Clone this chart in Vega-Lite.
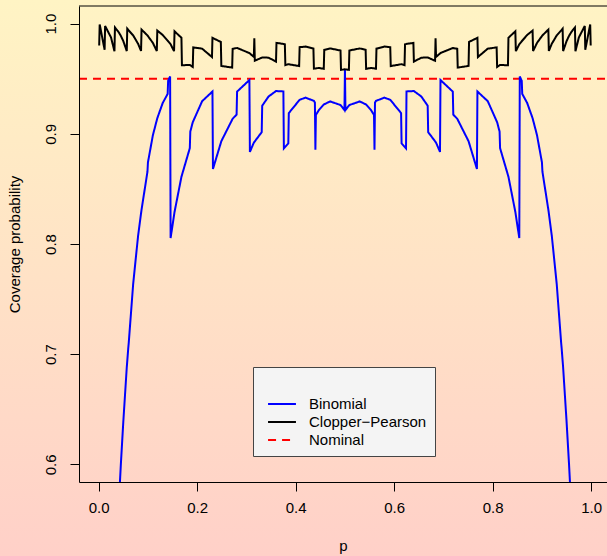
{
  "$schema": "https://vega.github.io/schema/vega-lite/v6.json",
  "width": 528,
  "height": 476,
  "autosize": {"type": "none"},
  "padding": {"left": 79, "top": 6, "right": 0, "bottom": 74},
  "background": "#FFE4C6",
  "config": {
    "view": {"stroke": null},
    "font": "Liberation Sans",
    "axis": {"grid": false, "domainColor": "#000000", "tickColor": "#000000", "labelColor": "#000000", "titleColor": "#000000", "labelFontSize": 15, "titleFontSize": 15, "titleFontWeight": "normal", "tickSize": 9, "labelFont": "Liberation Sans", "titleFont": "Liberation Sans"},
    "legend": {"orient": "none", "legendX": 174, "legendY": 361, "fillColor": "#F4F4F4", "strokeColor": "#444444", "padding": 8, "symbolOffset": 11, "symbolType": "M-1.55,0H1.55", "symbolSize": 324, "symbolStrokeWidth": 2, "labelFontSize": 15, "labelFont": "Liberation Sans", "labelColor": "#000000", "labelOffset": 17, "rowPadding": 0, "titleFontSize": 14, "titlePadding": 5, "zindex": 2}
  },
  "layer": [
    {
      "data": {"values": [{"a": 1}]},
      "mark": {"type": "rect", "clip": false, "fill": {"gradient": "linear", "x1": 0, "y1": 0, "x2": 0, "y2": 1, "stops": [{"offset": 0, "color": "#FFF4C4"}, {"offset": 1, "color": "#FFD0C8"}]}},
      "encoding": {
        "x": {"datum": -0.21, "type": "quantitative"},
        "x2": {"datum": 1.04},
        "y": {"datum": 1.0215, "type": "quantitative"},
        "y2": {"datum": 0.5168}
      }
    },
    {
      "data": {"values": [
        {"s": "Nominal", "p": -0.04, "c": 0.95}, {"s": "Nominal", "p": 1.04, "c": 0.95},
        {"s": "Binomial", "p": 0.025, "c": 0.3935}, {"s": "Binomial", "p": 0.032, "c": 0.4789}, {"s": "Binomial", "p": 0.04, "c": 0.557}, {"s": "Binomial", "p": 0.045, "c": 0.6002}, {"s": "Binomial", "p": 0.05, "c": 0.639}, {"s": "Binomial", "p": 0.057, "c": 0.6881}, {"s": "Binomial", "p": 0.06, "c": 0.7054}, {"s": "Binomial", "p": 0.061, "c": 0.7103}, {"s": "Binomial", "p": 0.07, "c": 0.7638}, {"s": "Binomial", "p": 0.08, "c": 0.8075}, {"s": "Binomial", "p": 0.087, "c": 0.8312}, {"s": "Binomial", "p": 0.099, "c": 0.8656}, {"s": "Binomial", "p": 0.1, "c": 0.8741}, {"s": "Binomial", "p": 0.11, "c": 0.8987}, {"s": "Binomial", "p": 0.119, "c": 0.9142}, {"s": "Binomial", "p": 0.13, "c": 0.928}, {"s": "Binomial", "p": 0.14, "c": 0.9362}, {"s": "Binomial", "p": 0.141, "c": 0.9481}, {"s": "Binomial", "p": 0.145, "c": 0.9521}, {"s": "Binomial", "p": 0.146, "c": 0.8054}, {"s": "Binomial", "p": 0.154, "c": 0.8291}, {"s": "Binomial", "p": 0.168, "c": 0.861}, {"s": "Binomial", "p": 0.185, "c": 0.887}, {"s": "Binomial", "p": 0.186, "c": 0.902}, {"s": "Binomial", "p": 0.191, "c": 0.9105}, {"s": "Binomial", "p": 0.21, "c": 0.9296}, {"s": "Binomial", "p": 0.231, "c": 0.9384}, {"s": "Binomial", "p": 0.232, "c": 0.8681}, {"s": "Binomial", "p": 0.249, "c": 0.8933}, {"s": "Binomial", "p": 0.272, "c": 0.9137}, {"s": "Binomial", "p": 0.28, "c": 0.9174}, {"s": "Binomial", "p": 0.281, "c": 0.9383}, {"s": "Binomial", "p": 0.306, "c": 0.9488}, {"s": "Binomial", "p": 0.307, "c": 0.8836}, {"s": "Binomial", "p": 0.315, "c": 0.892}, {"s": "Binomial", "p": 0.331, "c": 0.9015}, {"s": "Binomial", "p": 0.332, "c": 0.9255}, {"s": "Binomial", "p": 0.345, "c": 0.9339}, {"s": "Binomial", "p": 0.36, "c": 0.9388}, {"s": "Binomial", "p": 0.375, "c": 0.9385}, {"s": "Binomial", "p": 0.376, "c": 0.8868}, {"s": "Binomial", "p": 0.385, "c": 0.8913}, {"s": "Binomial", "p": 0.386, "c": 0.9188}, {"s": "Binomial", "p": 0.408, "c": 0.9309}, {"s": "Binomial", "p": 0.42, "c": 0.9328}, {"s": "Binomial", "p": 0.437, "c": 0.9299}, {"s": "Binomial", "p": 0.439, "c": 0.9283}, {"s": "Binomial", "p": 0.44, "c": 0.8855}, {"s": "Binomial", "p": 0.441, "c": 0.9171}, {"s": "Binomial", "p": 0.447, "c": 0.9215}, {"s": "Binomial", "p": 0.457, "c": 0.9266}, {"s": "Binomial", "p": 0.47, "c": 0.9294}, {"s": "Binomial", "p": 0.491, "c": 0.9261}, {"s": "Binomial", "p": 0.499, "c": 0.9216}, {"s": "Binomial", "p": 0.5, "c": 0.9586},
        {"s": "Binomial", "p": 0.501, "c": 0.9216}, {"s": "Binomial", "p": 0.509, "c": 0.9261}, {"s": "Binomial", "p": 0.53, "c": 0.9294}, {"s": "Binomial", "p": 0.543, "c": 0.9266}, {"s": "Binomial", "p": 0.553, "c": 0.9215}, {"s": "Binomial", "p": 0.559, "c": 0.9171}, {"s": "Binomial", "p": 0.56, "c": 0.8855}, {"s": "Binomial", "p": 0.561, "c": 0.9283}, {"s": "Binomial", "p": 0.563, "c": 0.9299}, {"s": "Binomial", "p": 0.58, "c": 0.9328}, {"s": "Binomial", "p": 0.592, "c": 0.9309}, {"s": "Binomial", "p": 0.614, "c": 0.9188}, {"s": "Binomial", "p": 0.615, "c": 0.8913}, {"s": "Binomial", "p": 0.624, "c": 0.8868}, {"s": "Binomial", "p": 0.625, "c": 0.9385}, {"s": "Binomial", "p": 0.64, "c": 0.9388}, {"s": "Binomial", "p": 0.655, "c": 0.9339}, {"s": "Binomial", "p": 0.668, "c": 0.9255}, {"s": "Binomial", "p": 0.669, "c": 0.9015}, {"s": "Binomial", "p": 0.685, "c": 0.892}, {"s": "Binomial", "p": 0.693, "c": 0.8836}, {"s": "Binomial", "p": 0.694, "c": 0.9488}, {"s": "Binomial", "p": 0.719, "c": 0.9383}, {"s": "Binomial", "p": 0.72, "c": 0.9174}, {"s": "Binomial", "p": 0.728, "c": 0.9137}, {"s": "Binomial", "p": 0.751, "c": 0.8933}, {"s": "Binomial", "p": 0.768, "c": 0.8681}, {"s": "Binomial", "p": 0.769, "c": 0.9384}, {"s": "Binomial", "p": 0.79, "c": 0.9296}, {"s": "Binomial", "p": 0.809, "c": 0.9105}, {"s": "Binomial", "p": 0.814, "c": 0.902}, {"s": "Binomial", "p": 0.815, "c": 0.887}, {"s": "Binomial", "p": 0.832, "c": 0.861}, {"s": "Binomial", "p": 0.846, "c": 0.8291}, {"s": "Binomial", "p": 0.854, "c": 0.8054}, {"s": "Binomial", "p": 0.855, "c": 0.9521}, {"s": "Binomial", "p": 0.859, "c": 0.9481}, {"s": "Binomial", "p": 0.86, "c": 0.9362}, {"s": "Binomial", "p": 0.87, "c": 0.928}, {"s": "Binomial", "p": 0.881, "c": 0.9142}, {"s": "Binomial", "p": 0.89, "c": 0.8987}, {"s": "Binomial", "p": 0.9, "c": 0.8741}, {"s": "Binomial", "p": 0.901, "c": 0.8656}, {"s": "Binomial", "p": 0.913, "c": 0.8312}, {"s": "Binomial", "p": 0.92, "c": 0.8075}, {"s": "Binomial", "p": 0.93, "c": 0.7638}, {"s": "Binomial", "p": 0.939, "c": 0.7103}, {"s": "Binomial", "p": 0.94, "c": 0.7054}, {"s": "Binomial", "p": 0.943, "c": 0.6881}, {"s": "Binomial", "p": 0.95, "c": 0.639}, {"s": "Binomial", "p": 0.955, "c": 0.6002}, {"s": "Binomial", "p": 0.96, "c": 0.557}, {"s": "Binomial", "p": 0.968, "c": 0.4789}, {"s": "Binomial", "p": 0.975, "c": 0.3935},
        {"s": "Clopper−Pearson", "p": 0.001, "c": 0.9802}, {"s": "Clopper−Pearson", "p": 0.002, "c": 0.9993}, {"s": "Clopper−Pearson", "p": 0.012, "c": 0.9763}, {"s": "Clopper−Pearson", "p": 0.013, "c": 0.9979}, {"s": "Clopper−Pearson", "p": 0.025, "c": 0.9875}, {"s": "Clopper−Pearson", "p": 0.032, "c": 0.9749}, {"s": "Clopper−Pearson", "p": 0.033, "c": 0.9965}, {"s": "Clopper−Pearson", "p": 0.04, "c": 0.9926}, {"s": "Clopper−Pearson", "p": 0.045, "c": 0.9889}, {"s": "Clopper−Pearson", "p": 0.05, "c": 0.9841}, {"s": "Clopper−Pearson", "p": 0.057, "c": 0.9751}, {"s": "Clopper−Pearson", "p": 0.058, "c": 0.9954}, {"s": "Clopper−Pearson", "p": 0.06, "c": 0.9943}, {"s": "Clopper−Pearson", "p": 0.07, "c": 0.9893}, {"s": "Clopper−Pearson", "p": 0.08, "c": 0.9817}, {"s": "Clopper−Pearson", "p": 0.086, "c": 0.9752}, {"s": "Clopper−Pearson", "p": 0.087, "c": 0.9946}, {"s": "Clopper−Pearson", "p": 0.099, "c": 0.9893}, {"s": "Clopper−Pearson", "p": 0.11, "c": 0.9825}, {"s": "Clopper−Pearson", "p": 0.118, "c": 0.9751}, {"s": "Clopper−Pearson", "p": 0.119, "c": 0.9937}, {"s": "Clopper−Pearson", "p": 0.13, "c": 0.9897}, {"s": "Clopper−Pearson", "p": 0.141, "c": 0.984}, {"s": "Clopper−Pearson", "p": 0.146, "c": 0.9813}, {"s": "Clopper−Pearson", "p": 0.153, "c": 0.975}, {"s": "Clopper−Pearson", "p": 0.154, "c": 0.993}, {"s": "Clopper−Pearson", "p": 0.168, "c": 0.9872}, {"s": "Clopper−Pearson", "p": 0.169, "c": 0.9622}, {"s": "Clopper−Pearson", "p": 0.185, "c": 0.9625}, {"s": "Clopper−Pearson", "p": 0.191, "c": 0.9607}, {"s": "Clopper−Pearson", "p": 0.192, "c": 0.9784}, {"s": "Clopper−Pearson", "p": 0.21, "c": 0.9773}, {"s": "Clopper−Pearson", "p": 0.23, "c": 0.9697}, {"s": "Clopper−Pearson", "p": 0.231, "c": 0.9871}, {"s": "Clopper−Pearson", "p": 0.248, "c": 0.9834}, {"s": "Clopper−Pearson", "p": 0.249, "c": 0.9616}, {"s": "Clopper−Pearson", "p": 0.271, "c": 0.9601}, {"s": "Clopper−Pearson", "p": 0.272, "c": 0.9772}, {"s": "Clopper−Pearson", "p": 0.281, "c": 0.9779}, {"s": "Clopper−Pearson", "p": 0.306, "c": 0.9733}, {"s": "Clopper−Pearson", "p": 0.315, "c": 0.9698}, {"s": "Clopper−Pearson", "p": 0.316, "c": 0.9867}, {"s": "Clopper−Pearson", "p": 0.317, "c": 0.9663}, {"s": "Clopper−Pearson", "p": 0.332, "c": 0.9693}, {"s": "Clopper−Pearson", "p": 0.345, "c": 0.9691}, {"s": "Clopper−Pearson", "p": 0.36, "c": 0.9655}, {"s": "Clopper−Pearson", "p": 0.361, "c": 0.9825}, {"s": "Clopper−Pearson", "p": 0.375, "c": 0.9816}, {"s": "Clopper−Pearson", "p": 0.378, "c": 0.9812}, {"s": "Clopper−Pearson", "p": 0.379, "c": 0.9623}, {"s": "Clopper−Pearson", "p": 0.385, "c": 0.9632}, {"s": "Clopper−Pearson", "p": 0.407, "c": 0.9615}, {"s": "Clopper−Pearson", "p": 0.408, "c": 0.9786}, {"s": "Clopper−Pearson", "p": 0.42, "c": 0.9792}, {"s": "Clopper−Pearson", "p": 0.436, "c": 0.9773}, {"s": "Clopper−Pearson", "p": 0.437, "c": 0.9591}, {"s": "Clopper−Pearson", "p": 0.447, "c": 0.9598}, {"s": "Clopper−Pearson", "p": 0.457, "c": 0.959}, {"s": "Clopper−Pearson", "p": 0.458, "c": 0.9762}, {"s": "Clopper−Pearson", "p": 0.47, "c": 0.9775}, {"s": "Clopper−Pearson", "p": 0.491, "c": 0.9756}, {"s": "Clopper−Pearson", "p": 0.492, "c": 0.958}, {"s": "Clopper−Pearson", "p": 0.5, "c": 0.9586},
        {"s": "Clopper−Pearson", "p": 0.508, "c": 0.958}, {"s": "Clopper−Pearson", "p": 0.509, "c": 0.9756}, {"s": "Clopper−Pearson", "p": 0.53, "c": 0.9775}, {"s": "Clopper−Pearson", "p": 0.542, "c": 0.9762}, {"s": "Clopper−Pearson", "p": 0.543, "c": 0.959}, {"s": "Clopper−Pearson", "p": 0.553, "c": 0.9598}, {"s": "Clopper−Pearson", "p": 0.563, "c": 0.9591}, {"s": "Clopper−Pearson", "p": 0.564, "c": 0.9773}, {"s": "Clopper−Pearson", "p": 0.58, "c": 0.9792}, {"s": "Clopper−Pearson", "p": 0.592, "c": 0.9786}, {"s": "Clopper−Pearson", "p": 0.593, "c": 0.9615}, {"s": "Clopper−Pearson", "p": 0.615, "c": 0.9632}, {"s": "Clopper−Pearson", "p": 0.621, "c": 0.9623}, {"s": "Clopper−Pearson", "p": 0.622, "c": 0.9812}, {"s": "Clopper−Pearson", "p": 0.625, "c": 0.9816}, {"s": "Clopper−Pearson", "p": 0.639, "c": 0.9825}, {"s": "Clopper−Pearson", "p": 0.64, "c": 0.9655}, {"s": "Clopper−Pearson", "p": 0.655, "c": 0.9691}, {"s": "Clopper−Pearson", "p": 0.668, "c": 0.9693}, {"s": "Clopper−Pearson", "p": 0.683, "c": 0.9663}, {"s": "Clopper−Pearson", "p": 0.684, "c": 0.9867}, {"s": "Clopper−Pearson", "p": 0.685, "c": 0.9698}, {"s": "Clopper−Pearson", "p": 0.694, "c": 0.9733}, {"s": "Clopper−Pearson", "p": 0.719, "c": 0.9779}, {"s": "Clopper−Pearson", "p": 0.728, "c": 0.9772}, {"s": "Clopper−Pearson", "p": 0.729, "c": 0.9601}, {"s": "Clopper−Pearson", "p": 0.751, "c": 0.9616}, {"s": "Clopper−Pearson", "p": 0.752, "c": 0.9834}, {"s": "Clopper−Pearson", "p": 0.769, "c": 0.9871}, {"s": "Clopper−Pearson", "p": 0.77, "c": 0.9697}, {"s": "Clopper−Pearson", "p": 0.79, "c": 0.9773}, {"s": "Clopper−Pearson", "p": 0.808, "c": 0.9784}, {"s": "Clopper−Pearson", "p": 0.809, "c": 0.9607}, {"s": "Clopper−Pearson", "p": 0.815, "c": 0.9625}, {"s": "Clopper−Pearson", "p": 0.831, "c": 0.9622}, {"s": "Clopper−Pearson", "p": 0.832, "c": 0.9872}, {"s": "Clopper−Pearson", "p": 0.846, "c": 0.993}, {"s": "Clopper−Pearson", "p": 0.847, "c": 0.975}, {"s": "Clopper−Pearson", "p": 0.854, "c": 0.9813}, {"s": "Clopper−Pearson", "p": 0.859, "c": 0.984}, {"s": "Clopper−Pearson", "p": 0.87, "c": 0.9897}, {"s": "Clopper−Pearson", "p": 0.881, "c": 0.9937}, {"s": "Clopper−Pearson", "p": 0.882, "c": 0.9751}, {"s": "Clopper−Pearson", "p": 0.89, "c": 0.9825}, {"s": "Clopper−Pearson", "p": 0.901, "c": 0.9893}, {"s": "Clopper−Pearson", "p": 0.913, "c": 0.9946}, {"s": "Clopper−Pearson", "p": 0.914, "c": 0.9752}, {"s": "Clopper−Pearson", "p": 0.92, "c": 0.9817}, {"s": "Clopper−Pearson", "p": 0.93, "c": 0.9893}, {"s": "Clopper−Pearson", "p": 0.94, "c": 0.9943}, {"s": "Clopper−Pearson", "p": 0.942, "c": 0.9954}, {"s": "Clopper−Pearson", "p": 0.943, "c": 0.9751}, {"s": "Clopper−Pearson", "p": 0.95, "c": 0.9841}, {"s": "Clopper−Pearson", "p": 0.955, "c": 0.9889}, {"s": "Clopper−Pearson", "p": 0.96, "c": 0.9926}, {"s": "Clopper−Pearson", "p": 0.967, "c": 0.9965}, {"s": "Clopper−Pearson", "p": 0.968, "c": 0.9749}, {"s": "Clopper−Pearson", "p": 0.975, "c": 0.9875}, {"s": "Clopper−Pearson", "p": 0.987, "c": 0.9979}, {"s": "Clopper−Pearson", "p": 0.988, "c": 0.9763}, {"s": "Clopper−Pearson", "p": 0.998, "c": 0.9993}, {"s": "Clopper−Pearson", "p": 0.999, "c": 0.9802}
      ]},
      "mark": {"type": "line", "strokeWidth": 2, "clip": true},
      "encoding": {
        "x": {"field": "p", "type": "quantitative", "scale": {"domain": [-0.04, 1.0321], "nice": false, "zero": false}, "axis": {"title": "p", "values": [0, 0.2, 0.4, 0.6, 0.8, 1], "format": ".1f", "labelPadding": 9, "titlePadding": 23, "zindex": 1}},
        "y": {"field": "c", "type": "quantitative", "scale": {"domain": [0.584, 1.016], "nice": false, "zero": false}, "axis": {"title": "Coverage probability", "values": [0.6, 0.7, 0.8, 0.9, 1], "format": ".1f", "labelAngle": -90, "labelAlign": "center", "labelBaseline": "bottom", "labelPadding": 12, "titlePadding": 21, "zindex": 1}},
        "color": {"field": "s", "type": "nominal", "scale": {"domain": ["Binomial", "Clopper−Pearson", "Nominal"], "range": ["#0000FF", "#000000", "#FF0000"]}, "legend": {"title": " "}},
        "strokeDash": {"field": "s", "type": "nominal", "scale": {"domain": ["Binomial", "Clopper−Pearson", "Nominal"], "range": [[1, 0], [1, 0], [8, 6]]}, "legend": {"title": " "}}
      }
    },
    {
      "data": {"values": [{"a": 1}]},
      "mark": {"type": "rule", "color": "#000000", "strokeWidth": 1},
      "encoding": {"y": {"datum": 1.016}}
    }
  ]
}
